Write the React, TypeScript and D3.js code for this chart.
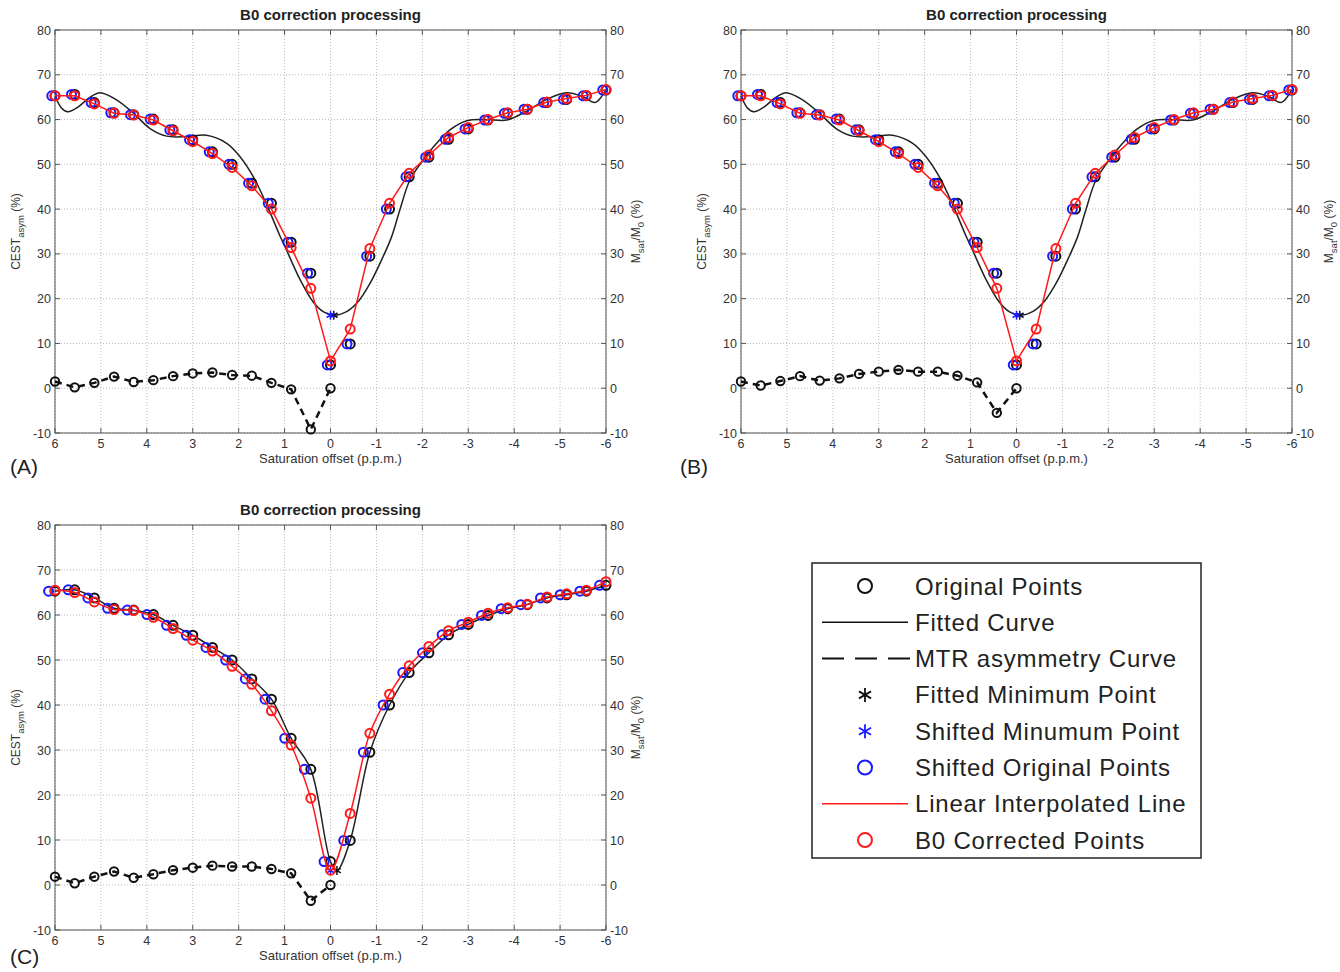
import React from 'react'
import * as d3 from 'd3'

// saturation offsets (ppm) of the acquired points, +6 .. -6
const offsets = [6, 5.571, 5.143, 4.714, 4.286, 3.857, 3.429, 3, 2.571, 2.143, 1.714, 1.286, 0.857, 0.429, 0,
  -0.429, -0.857, -1.286, -1.714, -2.143, -2.571, -3, -3.429, -3.857, -4.286, -4.714, -5.143, -5.571, -6]
const mtrOffsets = offsets.slice(0, 15)

// Msat/M0 (%) original points (same acquisition in all panels)
const originalPoints = [65.3, 65.6, 63.8, 61.5, 61.1, 60.1, 57.7, 55.5, 52.8, 50.0, 45.8, 41.3, 32.6, 25.7, 5.2,
  9.9, 29.5, 40.0, 47.2, 51.6, 55.6, 57.9, 59.9, 61.4, 62.3, 63.8, 64.5, 65.3, 66.6]

// B0 corrected points
const correctedAB = [65.3, 65.3, 63.5, 61.4, 61.0, 59.9, 57.5, 55.1, 52.4, 49.3, 45.2, 40.0, 31.4, 22.3, 6.1,
  13.2, 31.2, 41.3, 48.0, 52.1, 56.0, 58.2, 60.0, 61.5, 62.3, 63.9, 64.7, 65.4, 66.7]
const correctedC = [65.5, 65.0, 62.9, 61.2, 61.0, 59.5, 57.0, 54.4, 52.0, 48.6, 44.6, 38.7, 31.1, 19.3, 3.3,
  15.9, 33.7, 42.4, 48.7, 53.0, 56.5, 58.4, 60.4, 61.6, 62.4, 64.0, 64.7, 65.5, 67.4]

// MTR asymmetry (%)
const mtrA = [1.5, 0.2, 1.2, 2.6, 1.4, 1.8, 2.7, 3.3, 3.5, 2.95, 2.8, 1.2, -0.25, -9.2, 0]
const mtrB = [1.5, 0.6, 1.6, 2.7, 1.7, 2.2, 3.2, 3.7, 4.1, 3.7, 3.7, 2.8, 1.3, -5.5, 0]
const mtrC = [1.85, 0.4, 1.85, 3.0, 1.6, 2.4, 3.3, 3.85, 4.3, 4.1, 4.1, 3.55, 2.6, -3.5, 0]

const fitOffsetsAB = [6, 5.86, 5.72, 5.5, 5.25, 5.02, 4.66, 4.29, 3.93, 3.57, 3.13, 2.7, 2.26, 1.97, 1.68, 1.39,
  1.1, 0.99, 0.66, 0.38, 0.16, -0.07, -0.35, -0.6, -0.86, -1.11, -1.33, -1.51, -1.73, -2.02, -2.31, -2.6,
  -2.97, -3.4, -3.84, -4.27, -4.71, -5.14, -5.5, -5.76, -6]
const fitValuesAB = [65.3, 62.6, 61.75, 62.8, 64.9, 66.0, 64.4, 61.4, 58.0, 56.3, 56.2, 56.5, 54.7, 51.7, 47.2, 41.0,
  34.0, 31.6, 24.2, 19.3, 17.1, 16.3, 17.1, 19.3, 23.4, 28.6, 33.8, 39.8, 46.5, 51.0, 54.7, 57.7,
  59.75, 60.0, 59.9, 61.9, 64.5, 66.0, 65.1, 63.8, 66.7]

// fitted minimum (ppm, %) - the points get shifted by minus its offset
const minAB = { offset: -0.07, value: 16.3 }
const minC = { offset: -0.14, value: 3.2 }

// spline fit in panel C goes through the original points and the minimum
const fitOffsetsC = [...offsets.slice(0, 15), minC.offset, ...offsets.slice(15)]
const fitValuesC = [...originalPoints.slice(0, 15), minC.value, ...originalPoints.slice(15)]

const xTicks = [6, 5, 4, 3, 2, 1, 0, -1, -2, -3, -4, -5, -6]
const yTicks = [-10, 0, 10, 20, 30, 40, 50, 60, 70, 80]

const legendLabels = ['Original Points', 'Fitted Curve', 'MTR asymmetry Curve', 'Fitted Minimum Point',
  'Shifted Minumum Point', 'Shifted Original Points', 'Linear Interpolated Line', 'B0 Corrected Points']

const FONT = 'Liberation Sans, Arial, Helvetica, sans-serif'
const TICK = 12.5

const starPath = (cx: number, cy: number, r: number) => {
  const a = r * 0.866
  const b = r / 2
  return `M${cx},${cy - r}L${cx},${cy + r}M${cx - a},${cy - b}L${cx + a},${cy + b}M${cx - a},${cy + b}L${cx + a},${cy - b}`
}

type PanelProps = {
  left: number
  top: number
  width: number
  height: number
  tag: string
  tagX: number
  tagY: number
  rightLabelX: number
  fitX: number[]
  fitY: number[]
  corrected: number[]
  mtr: number[]
  minPoint: { offset: number; value: number }
  smoothRed: boolean
}

const Panel = (p: PanelProps) => {
  const x = d3.scaleLinear().domain([6, -6]).range([p.left, p.left + p.width])
  const y = d3.scaleLinear().domain([-10, 80]).range([p.top + p.height, p.top])
  const bottom = p.top + p.height
  const right = p.left + p.width
  const cx = p.left + p.width / 2
  const cy = p.top + p.height / 2
  const shift = -p.minPoint.offset

  const fitLine = d3.line<number>()
    .x((d, i) => x(p.fitX[i]))
    .y(d => y(d))
    .curve(d3.curveCatmullRom.alpha(0.5))
  const mtrLine = d3.line<number>()
    .x((d, i) => x(mtrOffsets[i]))
    .y(d => y(d))
  const redLine = d3.line<number>()
    .x((d, i) => x(offsets[i]))
    .y(d => y(d))
    .curve(p.smoothRed ? d3.curveCatmullRom.alpha(0.5) : d3.curveLinear)

  return (
    <g>
      {/* grid */}
      {xTicks.map(t => (
        <line key={'gx' + t} x1={x(t)} x2={x(t)} y1={p.top} y2={bottom} stroke="#aaa" strokeWidth={0.8} strokeDasharray="1,2" />
      ))}
      {yTicks.map(t => (
        <line key={'gy' + t} x1={p.left} x2={right} y1={y(t)} y2={y(t)} stroke="#aaa" strokeWidth={0.8} strokeDasharray="1,2" />
      ))}
      {/* ticks */}
      {xTicks.map(t => (
        <g key={'tx' + t}>
          <line x1={x(t)} x2={x(t)} y1={bottom} y2={bottom - 5} stroke="#555" />
          <line x1={x(t)} x2={x(t)} y1={p.top} y2={p.top + 5} stroke="#555" />
          <text x={x(t)} y={bottom + 15} textAnchor="middle" fontSize={TICK} fill="#333">{t}</text>
        </g>
      ))}
      {yTicks.map(t => (
        <g key={'ty' + t}>
          <line x1={p.left} x2={p.left + 5} y1={y(t)} y2={y(t)} stroke="#555" />
          <line x1={right} x2={right - 5} y1={y(t)} y2={y(t)} stroke="#555" />
          <text x={p.left - 4} y={y(t) + 4.5} textAnchor="end" fontSize={TICK} fill="#333">{t}</text>
          <text x={right + 4} y={y(t) + 4.5} textAnchor="start" fontSize={TICK} fill="#333">{t}</text>
        </g>
      ))}
      <rect x={p.left} y={p.top} width={p.width} height={p.height} fill="none" stroke="#555" strokeWidth={1} />

      {/* fitted curve */}
      <path d={fitLine(p.fitY) || ''} fill="none" stroke="#222" strokeWidth={1.5} />
      {/* MTR asymmetry */}
      <path d={mtrLine(p.mtr) || ''} fill="none" stroke="#111" strokeWidth={2.5} strokeDasharray="7,5" />
      {p.mtr.map((v, i) => (
        <circle key={'m' + i} cx={x(mtrOffsets[i])} cy={y(v)} r={4.2} fill="none" stroke="#111" strokeWidth={2} />
      ))}
      {/* original points */}
      {originalPoints.map((v, i) => (
        <circle key={'o' + i} cx={x(offsets[i])} cy={y(v)} r={4.5} fill="none" stroke="#111" strokeWidth={2} />
      ))}
      {/* shifted original points */}
      {originalPoints.map((v, i) => (
        <circle key={'s' + i} cx={x(offsets[i] + shift)} cy={y(v)} r={4.5} fill="none" stroke="#1a1aff" strokeWidth={2} />
      ))}
      {/* fitted / shifted minimum */}
      <path d={starPath(x(p.minPoint.offset), y(p.minPoint.value), 4.5)} stroke="#111" strokeWidth={1.5} />
      <path d={starPath(x(0), y(p.minPoint.value), 4.5)} stroke="#1a1aff" strokeWidth={1.5} />
      {/* corrected */}
      <path d={redLine(p.corrected) || ''} fill="none" stroke="#ff1a1a" strokeWidth={1.5} />
      {p.corrected.map((v, i) => (
        <circle key={'r' + i} cx={x(offsets[i])} cy={y(v)} r={4.5} fill="none" stroke="#ff1a1a" strokeWidth={2} />
      ))}

      {/* labels */}
      <text x={cx} y={p.top - 10} textAnchor="middle" fontSize={15} fontWeight="bold" fill="#222">B0 correction processing</text>
      <text x={cx} y={bottom + 30} textAnchor="middle" fontSize={13} fill="#333">Saturation offset (p.p.m.)</text>
      <text transform={`translate(${p.left - 35},${cy}) rotate(-90)`} textAnchor="middle" fontSize={12} fill="#333">
        CEST<tspan dy={4} fontSize={9.5}>asym</tspan><tspan dy={-4}> (%)</tspan>
      </text>
      <text transform={`translate(${p.rightLabelX},${cy}) rotate(-90)`} textAnchor="middle" fontSize={12} fill="#333">
        M<tspan dy={4} fontSize={9.5}>sat</tspan><tspan dy={-4}>/M</tspan><tspan dy={4} fontSize={9.5}>0</tspan><tspan dy={-4}> (%)</tspan>
      </text>
      <text x={p.tagX} y={p.tagY} fontSize={21} fill="#222">{p.tag}</text>
    </g>
  )
}

const Legend = () => {
  const left = 812
  const top = 563
  const w = 389
  const h = 295
  const step = 36.3
  const sx = 865
  const rowY = (i: number) => top + 23 + i * step
  return (
    <g>
      <rect x={left} y={top} width={w} height={h} fill="#fff" stroke="#222" strokeWidth={1.5} />
      <circle cx={sx} cy={rowY(0)} r={7} fill="none" stroke="#111" strokeWidth={2} />
      <line x1={822} x2={908} y1={rowY(1)} y2={rowY(1)} stroke="#111" strokeWidth={1.5} />
      <line x1={822} x2={910} y1={rowY(2)} y2={rowY(2)} stroke="#111" strokeWidth={2} strokeDasharray="22,11" />
      <path d={starPath(sx, rowY(3), 7)} stroke="#111" strokeWidth={1.8} />
      <path d={starPath(sx, rowY(4), 7)} stroke="#1a1aff" strokeWidth={1.8} />
      <circle cx={sx} cy={rowY(5)} r={7} fill="none" stroke="#1a1aff" strokeWidth={2} />
      <line x1={822} x2={908} y1={rowY(6)} y2={rowY(6)} stroke="#ff1a1a" strokeWidth={1.5} />
      <circle cx={sx} cy={rowY(7)} r={7} fill="none" stroke="#ff1a1a" strokeWidth={2} />
      {legendLabels.map((t, i) => (
        <text key={t} x={915} y={rowY(i) + 8.5} fontSize={24} letterSpacing={0.8} fill="#222">{t}</text>
      ))}
    </g>
  )
}

export default function App() {
  return (
    <svg width={1340} height={972} fontFamily={FONT}
      style={{ position: 'absolute', left: 0, top: 0, background: '#fff' }}>
      <Panel left={55} top={30} width={551} height={403} tag="(A)" tagX={10} tagY={474} rightLabelX={640}
        fitX={fitOffsetsAB} fitY={fitValuesAB} corrected={correctedAB} mtr={mtrA} minPoint={minAB} smoothRed={false} />
      <Panel left={741} top={30} width={551} height={403} tag="(B)" tagX={680} tagY={474} rightLabelX={1333}
        fitX={fitOffsetsAB} fitY={fitValuesAB} corrected={correctedAB} mtr={mtrB} minPoint={minAB} smoothRed={false} />
      <Panel left={55} top={525} width={551} height={405} tag="(C)" tagX={10} tagY={964} rightLabelX={640}
        fitX={fitOffsetsC} fitY={fitValuesC} corrected={correctedC} mtr={mtrC} minPoint={minC} smoothRed={true} />
      <Legend />
    </svg>
  )
}
